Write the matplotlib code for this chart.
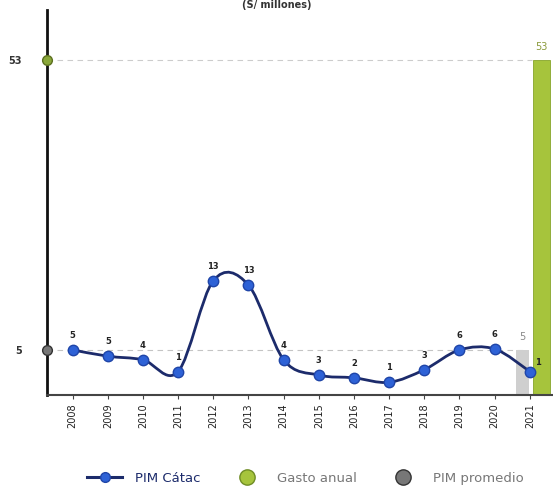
import numpy as np
import matplotlib.pyplot as plt
from matplotlib.path import Path
from matplotlib.patches import PathPatch
from matplotlib.lines import Line2D

years = ["2008", "2009", "2010", "2011", "2012", "2013", "2014",
         "2015", "2016", "2017", "2018", "2019", "2020", "2021"]
pim_catac = [5.0, 4.3, 3.9, 2.6, 12.7, 12.2, 3.9, 2.2, 1.9, 1.4, 2.8, 5.0, 5.1, 2.6]
pim_labels = ["5", "5", "4", "1", "13", "13", "4", "3", "2", "1", "3", "6", "6", "1"]
gasto_anual = 53
pim_promedio = 5

navy = "#1c2b6b"
blue = "#2e62d6"
green = "#a6c43c"
grey = "#cfcfcf"

# broken-ish y scale: linear up to 15, compressed above
brk, k = 15.0, 0.584
def fwd(v):
    v = np.asarray(v, dtype=float)
    return np.where(v <= brk, v, brk + (v - brk) * k)
def inv(v):
    v = np.asarray(v, dtype=float)
    return np.where(v <= brk, v, brk + (v - brk) / k)

fig = plt.figure(figsize=(5.53, 4.93), dpi=100)
ax = fig.add_axes([0.085, 0.199, 0.915, 0.781])
ax.set_yscale("function", functions=(fwd, inv))
x = np.arange(len(years))
ax.set_xlim(-0.73, 13.66)
ax.set_ylim(0, 62.6)

# reference lines
ax.plot([-0.73, 12.9], [pim_promedio, pim_promedio], color="#c4c4c4", lw=0.8,
        ls=(0, (5, 4)), zorder=1)
ax.plot([-0.73, 13.05], [gasto_anual, gasto_anual], color="#cccccc", lw=0.8,
        ls=(0, (5, 4)), zorder=1)

# bars for 2021
ax.bar(13 - 0.2, pim_promedio, width=0.37, color=grey, zorder=2)
ax.bar(13 + 0.33, gasto_anual, width=0.49, color=green, edgecolor="#86a52a",
       lw=0.6, zorder=2)
ax.text(13 - 0.2, pim_promedio + 0.9, "5", ha="center", va="bottom",
        fontsize=7, color="#888888")
ax.text(13 + 0.33, gasto_anual + 1.5, "53", ha="center", va="bottom",
        fontsize=7, color="#8a9a3a")

# smooth line through the points (cubic bezier, catmull-rom handles)
pts = np.column_stack([x, pim_catac])
ext = np.vstack([pts[0], pts, pts[-1]])
verts = [pts[0]]
codes = [Path.MOVETO]
for i in range(len(pts) - 1):
    p0, p1, p2, p3 = ext[i], ext[i + 1], ext[i + 2], ext[i + 3]
    verts += [p1 + (p2 - p0) / 6, p2 - (p3 - p1) / 6, p2]
    codes += [Path.CURVE4] * 3
ax.add_patch(PathPatch(Path(verts, codes), fill=False, edgecolor=navy,
                       lw=2, zorder=3))
ax.plot(x, pim_catac, ls="none", marker="o", ms=7.5, mfc=blue, mec="#1f45a8",
        mew=1, zorder=4)

for xi, v, lab in zip(x, pim_catac, pim_labels):
    if xi == 13:
        ax.text(xi + 0.15, v + 0.5, lab, ha="left", va="bottom", fontsize=6,
                fontweight="bold", color="#222222")
    else:
        ax.text(xi, v + 1.1, lab, ha="center", va="bottom", fontsize=6,
                fontweight="bold", color="#222222")

# markers on the y axis
ax.plot([-0.73], [gasto_anual], marker="o", ms=7, mfc="#8aa83a", mec="#5d7020",
        clip_on=False, zorder=5)
ax.plot([-0.73], [pim_promedio], marker="o", ms=7, mfc="#777777", mec="#333333",
        clip_on=False, zorder=5)

# axes styling
for s in ["top", "right"]:
    ax.spines[s].set_visible(False)
ax.spines["left"].set_linewidth(2)
ax.spines["left"].set_color("#111111")
ax.spines["bottom"].set_linewidth(1.5)
ax.spines["bottom"].set_color("#444444")
ax.set_xticks(x)
ax.set_xticklabels(years, rotation=90, fontsize=7, color="#222222")
ax.tick_params(axis="x", length=3, color="#444444", pad=3)
ax.set_yticks([pim_promedio, gasto_anual])
ax.set_yticklabels(["5", "53"], fontsize=7, color="#333333", fontweight="bold")
ax.tick_params(axis="y", length=0, pad=18)
ax.minorticks_off()

fig.text(0.5, 1.0, "(S/ millones)", ha="center", va="top", fontsize=7,
         fontweight="bold", color="#333333")

handles = [
    Line2D([], [], color=navy, lw=2.2, marker="o", ms=7, mfc=blue, mec="#1f45a8"),
    Line2D([], [], ls="none", marker="o", ms=11, mfc=green, mec="#6f8c25"),
    Line2D([], [], ls="none", marker="o", ms=11, mfc="#777777", mec="#333333"),
]
leg = fig.legend(handles, ["PIM Cátac", "Gasto anual", "PIM promedio"],
                 loc="center", bbox_to_anchor=(0.553, 0.03), ncol=3,
                 frameon=False, fontsize=9.5, columnspacing=2.2,
                 handlelength=2.6, handletextpad=1.0)
for t, c in zip(leg.get_texts(), [navy, "#777777", "#777777"]):
    t.set_color(c)

fig.savefig("out.png", dpi=100)
